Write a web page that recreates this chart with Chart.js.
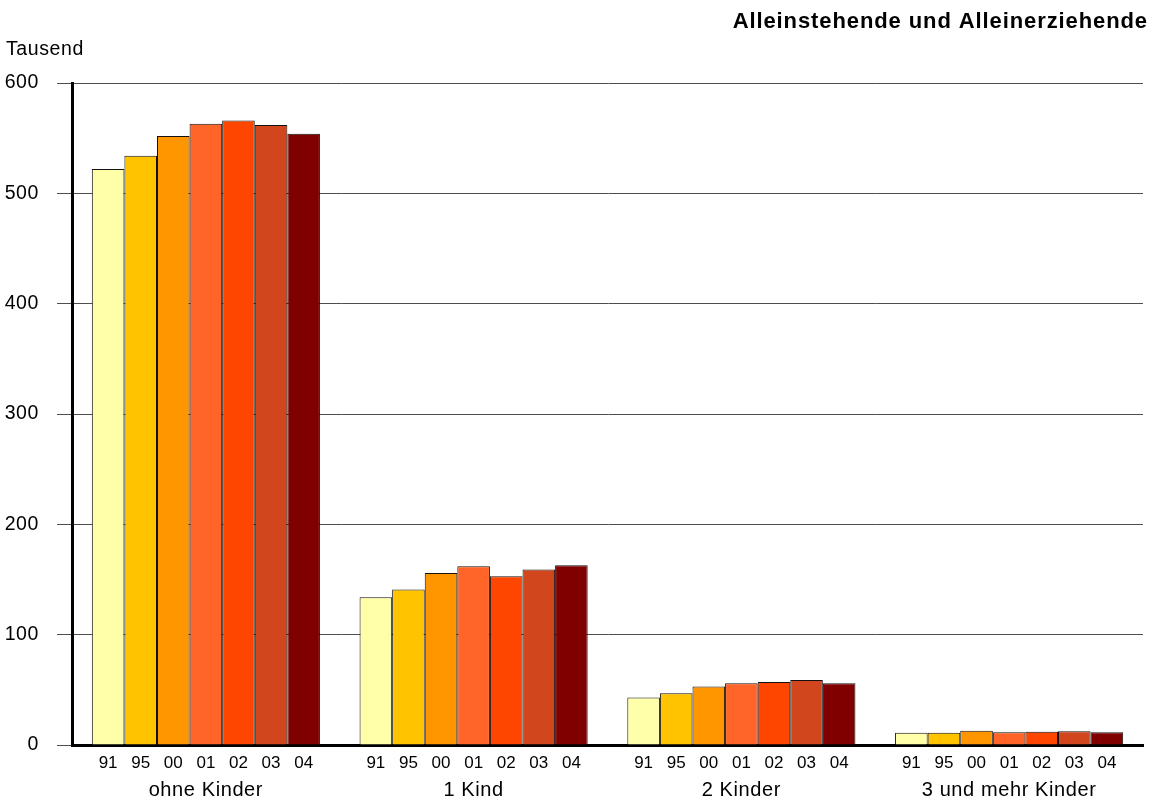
<!DOCTYPE html>
<html lang="de">
<head>
<meta charset="utf-8">
<title>Alleinstehende und Alleinerziehende</title>
<script src="https://cdn.jsdelivr.net/npm/chart.js@4/dist/chart.umd.min.js"></script>
<style>
  html, body { margin: 0; padding: 0; background: #fff; }
  #wrap { width: 1154px; height: 800px; position: relative; }
</style>
</head>
<body>
<div id="wrap"><canvas id="c" width="1154" height="800"></canvas></div>
<script>
// Haushaltstypen (Kategorien) und Erhebungsjahre
const categories = ['ohne Kinder', '1 Kind', '2 Kinder', '3 und mehr Kinder'];
const years = ['91', '95', '00', '01', '02', '03', '04'];

// Werte in Tausend, je Jahr über die vier Kategorien
const v91 = [522, 134, 43, 11];
const v95 = [534, 141, 47, 11];
const v00 = [552, 156, 53, 13];
const v01 = [563, 162, 56, 11.5];
const v02 = [566, 153, 57, 12];
const v03 = [562, 159, 59, 12.5];
const v04 = [554, 163, 56, 11.5];

// Y-Achse
const yTicks = [0, 100, 200, 300, 400, 500, 600];

const seriesByYear = [v91, v95, v00, v01, v02, v03, v04];
const yearColors = ['#FFFFAA', '#FFC300', '#FF9600', '#FF6428', '#FF4600', '#D2461E', '#800000'];

const FONT = "'Liberation Sans', Arial, Helvetica, sans-serif";

const datasets = years.map((y, i) => ({
  label: y,
  data: seriesByYear[i],
  backgroundColor: yearColors[i],
  borderColor: '#111',
  borderWidth: 1,
  categoryPercentage: 0.852,
  barPercentage: 1.0
}));

// Jahreszahlen unter jedem Balken, Titel und Einheit
const annotations = {
  id: 'annotations',
  beforeDraw(chart) {
    chart.ctx.letterSpacing = '0.6px';
  },
  afterDraw(chart) {
    const ctx = chart.ctx;
    ctx.save();
    ctx.letterSpacing = '0px';
    ctx.fillStyle = '#000';
    ctx.font = '17px ' + FONT;
    ctx.textAlign = 'center';
    ctx.textBaseline = 'middle';
    chart.data.datasets.forEach((ds, di) => {
      const meta = chart.getDatasetMeta(di);
      meta.data.forEach(bar => {
        ctx.fillText(ds.label, bar.x, chart.chartArea.bottom + 18);
      });
    });

    ctx.letterSpacing = '0.9px';
    ctx.font = 'bold 22px ' + FONT;
    ctx.textAlign = 'right';
    ctx.textBaseline = 'alphabetic';
    ctx.fillText('Alleinstehende und Alleinerziehende', 1148, 28);

    ctx.letterSpacing = '0.6px';
    ctx.font = '19.5px ' + FONT;
    ctx.textAlign = 'left';
    ctx.fillText('Tausend', 6, 55);
    ctx.restore();
  }
};

new Chart(document.getElementById('c'), {
  type: 'bar',
  data: { labels: categories, datasets },
  options: {
    responsive: false,
    animation: false,
    devicePixelRatio: 1,
    layout: { padding: { top: 83, right: 11, bottom: 0, left: 0 } },
    plugins: {
      legend: { display: false },
      tooltip: { enabled: false },
      title: { display: false }
    },
    scales: {
      x: {
        grid: { display: false, drawTicks: false },
        border: { display: true, color: '#000', width: 3 },
        ticks: {
          color: '#000',
          font: { family: FONT, size: 20 },
          padding: 33,
          maxRotation: 0
        },
        afterFit(scale) { scale.height = 55; }
      },
      y: {
        min: 0,
        max: 600,
        afterBuildTicks(scale) { scale.ticks = yTicks.map(v => ({ value: v })); },
        grid: { color: '#4d4d4d', lineWidth: 1, tickLength: 15, drawTicks: true },
        border: { display: true, color: '#000', width: 3 },
        ticks: {
          color: '#000',
          font: { family: FONT, size: 19.5 },
          padding: 18
        },
        afterFit(scale) { scale.width = 72; }
      }
    }
  },
  plugins: [annotations]
});
</script>
</body>
</html>
